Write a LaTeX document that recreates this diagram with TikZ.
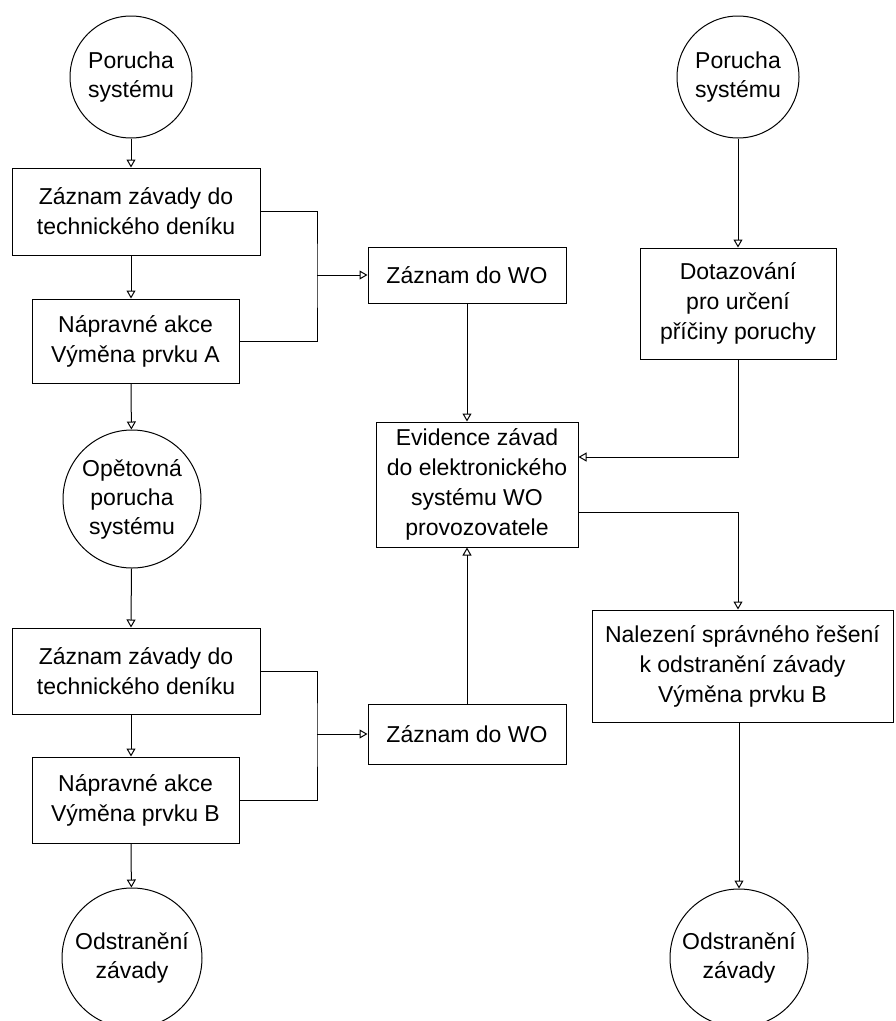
\documentclass[tikz,border=0pt]{standalone}
\usepackage{fontspec}
\setmainfont{Liberation Sans}
\usepackage{tikz}
\usetikzlibrary{arrows.meta}
\tikzstyle{taskbox}=[rectangle,draw=black,fill=white,line width=1pt,
                     inner sep=0pt,align=center,
                     font=\fontsize{23}{30}\selectfont]
\tikzstyle{eventcircle}=[circle,draw=black,fill=white,line width=1pt,
                         inner sep=0pt,align=center,
                         font=\fontsize{23}{29}\selectfont]
\tikzstyle{flowarrow}=[line width=1pt,
                       -{Triangle[open,length=8pt,width=9pt]}]
\tikzstyle{flowline}=[line width=1pt]

\begin{document}
\begin{tikzpicture}[x=1pt,y=-1pt]
    \newcommand{\jx}{317}
    \clip (0,0) rectangle (896,1021);
    % left column
    \node (c1) at (131, 77) [eventcircle,minimum size=122pt]{Porucha\\systému};
    \node (z1) at (136, 211.5) [taskbox,minimum width=248pt,minimum height=87pt]
          {Záznam závady do\\technického deníku};
    \node (n1) at (135.5, 341) [taskbox,minimum width=207pt,minimum height=84pt]
          {Nápravné akce\\Výměna prvku A};
    \node (c3) at (132, 499) [eventcircle,minimum size=138pt]{Opětovná\\porucha\\systému};
    \node (z2) at (136, 671) [taskbox,minimum width=248pt,minimum height=86pt]
          {Záznam závady do\\technického deníku};
    \node (n2) at (135.5, 800) [taskbox,minimum width=207pt,minimum height=86pt]
          {Nápravné akce\\Výměna prvku B};
    \node (c4) at (132, 958) [eventcircle,minimum size=140pt]{Odstranění\\závady};
    % middle column
    \node (wo1) at (467, 275) [taskbox,minimum width=198pt,minimum height=56pt]{Záznam do WO};
    \node (e) at (477, 484.5) [taskbox,minimum width=202pt,minimum height=125pt]
          {Evidence závad\\do elektronického\\systému WO\\provozovatele};
    \node (wo2) at (467, 734) [taskbox,minimum width=198pt,minimum height=60pt]{Záznam do WO};
    % right column
    \node (c2) at (738, 77) [eventcircle,minimum size=122pt]{Porucha\\systému};
    \node (d) at (738, 303.5) [taskbox,minimum width=196pt,minimum height=111pt]
          {Dotazování\\pro určení\\příčiny poruchy};
    \node (nr) at (742.5, 666) [taskbox,minimum width=301pt,minimum height=112pt]
          {Nalezení správného řešení\\k odstranění závady\\Výměna prvku B};
    \node (c5) at (739, 958) [eventcircle,minimum size=138pt]{Odstranění\\závady};
    \coordinate (j1) at (\jx, 275);
    \coordinate (j2) at (\jx, 734);

    \draw[flowarrow] (c1) -- (c1 |- z1.north);
    \draw[flowarrow] (c1 |- z1.south) -- (c1 |- n1.north);
    \draw[flowarrow] (c1 |- n1.south) -- (c3);
    \draw[flowarrow] (c3) -- (c1 |- z2.north);
    \draw[flowarrow] (c1 |- z2.south) -- (c1 |- n2.north);
    \draw[flowarrow] (c1 |- n2.south) -- (c4);
    \draw[flowline] (z1.east) -| (j1) |- (n1.east);
    \draw[flowline] (z2.east) -| (j2) |- (n2.east);
    \draw[flowarrow] (j1) -- (wo1.west);
    \draw[flowarrow] (j2) -- (wo2.west);
    \draw[flowarrow] (wo1.south) -- (wo1.south |- e.north);
    \draw[flowarrow] (wo2.north) -- (wo2.north |- e.south);
    \draw[flowarrow] (c2) -- (c2 |- d.north);
    \draw[flowarrow] (d.south) |- ([yshift=27.5pt]e.east);
    \draw[flowarrow] ([yshift=-27.5pt]e.east) -| (d.south |- nr.north);
    \draw[flowarrow] (c5 |- nr.south) -- (c5);
  \end{tikzpicture}
\end{document}
